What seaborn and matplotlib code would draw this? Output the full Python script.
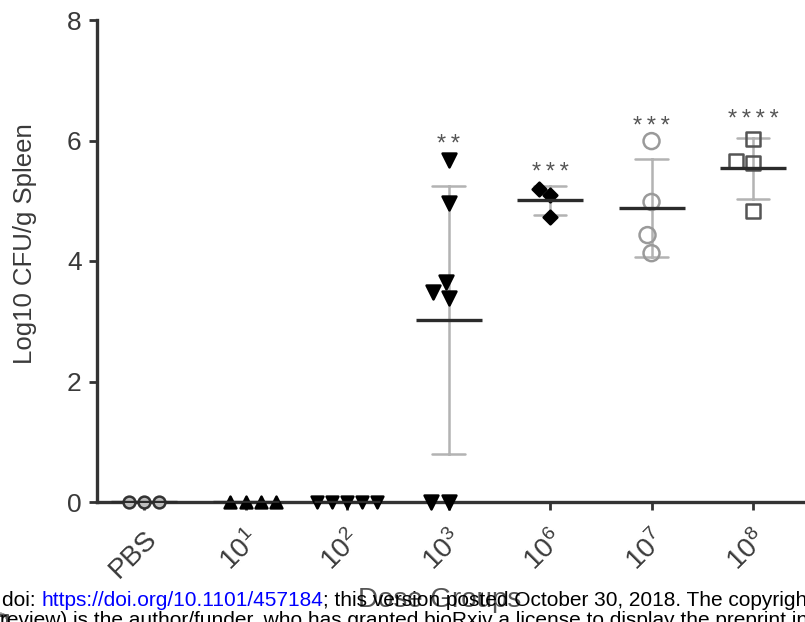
import pandas as pd
import matplotlib
matplotlib.use("Agg")
import matplotlib.pyplot as plt
import seaborn as sns

# dose groups and Log10 CFU/g spleen per animal
groups = ["PBS", "10$^1$", "10$^2$", "10$^3$", "10$^6$", "10$^7$", "10$^8$"]
pbs = [0.0, 0.0, 0.0]
dose1 = [0.0, 0.0, 0.0, 0.0]
dose2 = [0.0, 0.0, 0.0, 0.0, 0.0]
dose3 = [5.68, 4.96, 3.49, 3.38, 3.65, 0.0, 0.0]
dose6 = [5.19, 5.10, 4.73]
dose7 = [5.99, 4.98, 4.43, 4.13]
dose8 = [6.03, 5.66, 5.63, 4.83]

# significance marks and the height they sit at
stars = ["", "", "", "**", "***", "***", "****"]
star_y = [0, 0, 0, 5.93, 5.46, 6.23, 6.34]

values = [pbs, dose1, dose2, dose3, dose6, dose7, dose8]
df = pd.DataFrame({
    "Group": [g for g, v in zip(groups, values) for _ in v],
    "CFU": [x for v in values for x in v],
})

# per-group symbol style (GraphPad look)
markers = ["o", "^", "v", "v", "D", "o", "s"]
msizes = [8.5, 8.5, 8.5, 10, 7, 11.5, 10]
faces = ["#bdbdbd", "black", "black", "black", "black", "none", "none"]
edges = ["#333333", "black", "black", "black", "black", "#9a9a9a", "#555555"]

sns.set_style("ticks")
plt.rcParams["font.family"] = ["Liberation Sans", "DejaVu Sans"]
plt.rcParams["mathtext.fontset"] = "custom"
plt.rcParams["mathtext.rm"] = "Liberation Sans"
plt.rcParams["mathtext.default"] = "regular"

fig = plt.figure(figsize=(8.05, 6.22), dpi=100)
ax = fig.add_axes([97 / 805, 1 - 502 / 622, 708 / 805, 482 / 622])

for i, g in enumerate(groups):
    sub = df[df["Group"] == g]
    n_before = len(ax.collections)
    sns.swarmplot(data=sub, x="Group", y="CFU", order=groups, ax=ax,
                  marker=markers[i], size=msizes[i], color="black",
                  linewidth=1.8, zorder=3, clip_on=False)
    for coll in ax.collections[n_before:]:
        coll.set_facecolor(faces[i])
        coll.set_edgecolor(edges[i])

# mean +/- SD
sns.pointplot(data=df, x="Group", y="CFU", order=groups, ax=ax,
              estimator="mean", errorbar="sd", capsize=0.32,
              linestyle="none", marker="_", markersize=48,
              markeredgewidth=2.4, color="#2b2b2b", zorder=4,
              err_kws={"color": "#b3b3b3", "linewidth": 1.8, "zorder": 2.6})

for i, s in enumerate(stars):
    if s:
        ax.text(i, star_y[i], "\u2009".join(s), ha="center", va="center",
                fontsize=17, color="#555555")

ax.set_ylim(0, 8)
ax.set_xlim(-0.463, 6.512)
ax.set_yticks([0, 2, 4, 6, 8])
ax.set_xticks(range(len(groups)))
ax.set_xticklabels(groups, rotation=45, ha="right", va="top",
                   rotation_mode="anchor")
sns.despine(ax=ax)
for sp in ["left", "bottom"]:
    ax.spines[sp].set_linewidth(2.4)
    ax.spines[sp].set_color("#333333")
ax.tick_params(axis="both", length=6, width=2, color="#333333",
               labelsize=19, labelcolor="#3a3a3a", pad=5)
ax.tick_params(axis="x", labelsize=20, pad=11)

ax.set_ylabel("Log10 CFU/g Spleen", fontsize=18.5, color="#3a3a3a")
ax.yaxis.set_label_coords(-0.085, 0.537)
ax.set_xlabel("Dose Groups", fontsize=20, color="#555555")
ax.xaxis.set_label_coords(0.484, -0.176)

# bioRxiv footer overlaid on the figure
fig.canvas.draw()
renderer = fig.canvas.get_renderer()
x0 = 2 / 805
y0 = (622 - 606) / 622
parts = [("doi: ", "black"), ("https://doi.org/10.1101/457184", "#0000ff"),
         ("; this version posted October 30, 2018. The copyright holder for this preprint (which was not certified by peer", "black")]
for txt, col in parts:
    t = fig.text(x0, y0, txt, fontsize=15, color=col, va="baseline", ha="left")
    bb = t.get_window_extent(renderer)
    x0 = bb.x1 / 805
fig.text(0 / 805, -4 / 622,
         "review) is the author/funder, who has granted bioRxiv a license to display the preprint in perpetuity.",
         fontsize=15, color="black", va="baseline", ha="left")

fig.savefig("out.png", dpi=100)
